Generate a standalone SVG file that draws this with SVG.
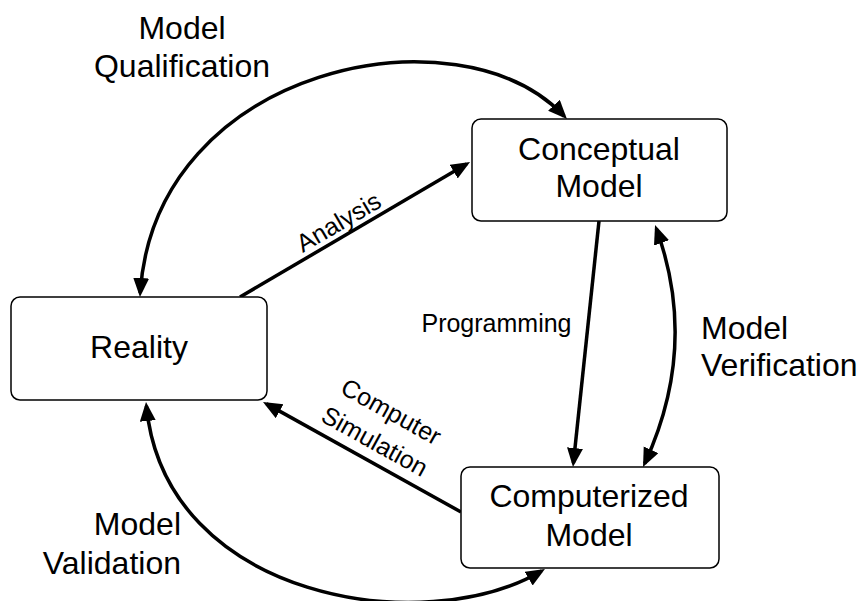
<svg xmlns="http://www.w3.org/2000/svg" width="859" height="601" viewBox="0 0 859 601">
  <defs>
    <style>
      .box { fill: #ffffff; stroke: #000000; stroke-width: 1.5; }
      .big { font-family: "Liberation Sans", Arial, sans-serif; font-size: 32px; fill: #000000; }
      .small { font-family: "Liberation Sans", Arial, sans-serif; font-size: 25px; fill: #000000; }
      .edge { fill: none; stroke: #000000; stroke-width: 3.5; }
    </style>
    <marker id="head" markerUnits="userSpaceOnUse" markerWidth="22" markerHeight="18" refX="15" refY="8" orient="auto-start-reverse">
      <path d="M0,0 L19,8 L0,16 z" fill="#000000"/>
    </marker>
  </defs>

  <rect width="859" height="601" fill="#ffffff"/>

  <!-- connectors -->
  <g id="connectors">
    <!-- Analysis: Reality -> Conceptual Model -->
    <path class="edge" d="M240,297 L466.6,164" marker-end="url(#head)"/>
    <!-- Programming: Conceptual Model -> Computerized Model -->
    <path class="edge" d="M599,221 L573.4,463" marker-end="url(#head)"/>
    <!-- Computer Simulation: Computerized Model -> Reality -->
    <path class="edge" d="M461,512 L266.5,403.9" marker-end="url(#head)"/>
    <!-- Model Verification (two-way) -->
    <path class="edge" d="M644.7,463.4 Q699,346 656.4,228.8" marker-start="url(#head)" marker-end="url(#head)"/>
    <!-- Model Qualification (two-way) -->
    <path class="edge" d="M140.2,293 C155,65 460,5 564.2,116.2" marker-start="url(#head)" marker-end="url(#head)"/>
    <!-- Model Validation (two-way) -->
    <path class="edge" d="M146.4,406 C165,600 425,640 541.5,571" marker-start="url(#head)" marker-end="url(#head)"/>

    <text class="small" transform="translate(343,229.5) rotate(-30.4)" text-anchor="middle">Analysis</text>
    <text class="small" x="496.5" y="332" text-anchor="middle">Programming</text>
    <g transform="translate(382.7,427) rotate(29)">
      <text class="small" x="0" y="-9" text-anchor="middle">Computer</text>
      <text class="small" x="0" y="25" text-anchor="middle">Simulation</text>
    </g>
    <text class="big" text-anchor="middle"><tspan x="182" y="39">Model</tspan><tspan x="182" y="77">Qualification</tspan></text>
    <text class="big" text-anchor="start"><tspan x="701" y="339">Model</tspan><tspan x="701" y="376">Verification</tspan></text>
    <text class="big" text-anchor="end"><tspan x="181" y="535">Model</tspan><tspan x="181" y="574">Validation</tspan></text>
  </g>

  <!-- nodes -->
  <g id="reality">
    <rect class="box" x="11" y="297" width="256" height="103" rx="9" ry="9"/>
    <text class="big" x="139" y="358" text-anchor="middle">Reality</text>
  </g>
  <g id="conceptual-model">
    <rect class="box" x="472" y="119" width="255" height="102" rx="9" ry="9"/>
    <text class="big" text-anchor="middle"><tspan x="599" y="160">Conceptual</tspan><tspan x="599" y="197">Model</tspan></text>
  </g>
  <g id="computerized-model">
    <rect class="box" x="461" y="467" width="258" height="101" rx="9" ry="9"/>
    <text class="big" text-anchor="middle"><tspan x="589" y="507">Computerized</tspan><tspan x="589" y="546">Model</tspan></text>
  </g>
</svg>
